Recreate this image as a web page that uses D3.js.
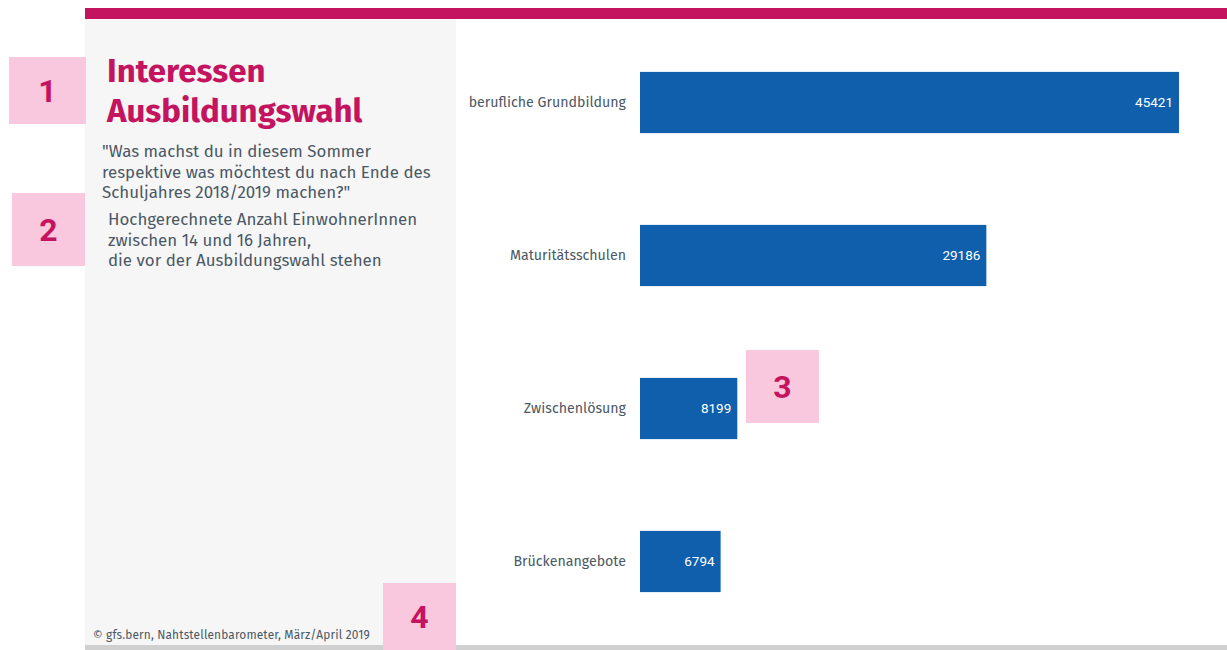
<!DOCTYPE html>
<html lang="de">
<head>
<meta charset="UTF-8">
<title>Interessen Ausbildungswahl</title>
<style>
  body { margin: 0; background: #fff; }
  svg text { font-family: "Fira Sans", "Noto Sans", "Open Sans", sans-serif; }
</style>
</head>
<body>
<svg id="svg" width="1227" height="650"></svg>
<script src="https://d3js.org/d3.v7.min.js"></script>
<script>
const categories = ["berufliche Grundbildung", "Maturitätsschulen", "Zwischenlösung", "Brückenangebote"]
const values = [45421, 29186, 8199, 6794]

const titleLines = ["Interessen", "Ausbildungswahl"]
const questionLines = ["\"Was machst du in diesem Sommer", "respektive was möchtest du nach Ende des", "Schuljahres 2018/2019 machen?\""]
const noteLines = ["Hochgerechnete Anzahl EinwohnerInnen", "zwischen 14 und 16 Jahren,", "die vor der Ausbildungswahl stehen"]
const footer = "© gfs.bern, Nahtstellenbarometer, März/April 2019"

const magenta = "#c4135f"
const textGrey = "#4b5865"
const barBlue = "#0f5fad"
const pink = "#f9c7de"

const svg = d3.select("#svg")

// frame
svg.append("rect").attr("x", 85).attr("y", 19).attr("width", 371).attr("height", 626).attr("fill", "#f6f6f6")
svg.append("rect").attr("x", 85).attr("y", 8).attr("width", 1142).attr("height", 11).attr("fill", magenta)
svg.append("rect").attr("x", 85).attr("y", 645).attr("width", 1142).attr("height", 5).attr("fill", "#d0d0d0")

// title + texts
svg.append("g").selectAll("text").data(titleLines).enter().append("text")
  .attr("x", 107).attr("y", (d, i) => 82 + i * 40)
  .attr("fill", magenta).attr("font-size", 33).attr("font-weight", "bold")
  .text(d => d)

svg.append("g").selectAll("text").data(questionLines).enter().append("text")
  .attr("x", 102).attr("y", (d, i) => 157 + i * 20.5)
  .attr("fill", textGrey).attr("font-size", 16.9)
  .text(d => d)

svg.append("g").selectAll("text").data(noteLines).enter().append("text")
  .attr("x", 108).attr("y", (d, i) => 225 + i * 20.5)
  .attr("fill", textGrey).attr("font-size", 16.9)
  .text(d => d)

svg.append("text").attr("x", 93).attr("y", 639)
  .attr("fill", textGrey).attr("font-size", 11.9).attr("letter-spacing", 0.15).text(footer)

// bars
const x = d3.scaleLinear().domain([0, 45421]).range([640, 1179])
const y = d3.scaleBand().domain(categories).range([26, 638]).paddingInner(0.6).paddingOuter(0.3)

const bars = svg.append("g").selectAll("g").data(categories).enter().append("g")

bars.append("rect")
  .attr("x", x(0))
  .attr("y", d => y(d))
  .attr("width", (d, i) => x(values[i]) - x(0))
  .attr("height", y.bandwidth())
  .attr("fill", barBlue)

bars.append("text")
  .attr("x", x(0) - 14)
  .attr("y", d => y(d) + y.bandwidth() / 2)
  .attr("dy", "0.35em")
  .attr("text-anchor", "end")
  .attr("fill", textGrey).attr("font-size", 14.2)
  .text(d => d)

bars.append("text")
  .attr("x", (d, i) => x(values[i]) - 6)
  .attr("y", d => y(d) + y.bandwidth() / 2)
  .attr("dy", "0.35em")
  .attr("text-anchor", "end")
  .attr("fill", "#fff").attr("font-size", 13.5)
  .style("font-family", "'Liberation Sans Narrow', 'Roboto', sans-serif")
  .text((d, i) => values[i])

// numbered markers
const markers = [
  { n: "1", x: 9, y: 57, w: 77, h: 67 },
  { n: "2", x: 12, y: 193, w: 73, h: 73 },
  { n: "3", x: 746, y: 350, w: 73, h: 73 },
  { n: "4", x: 383, y: 583, w: 73, h: 67 }
]
const mk = svg.append("g").selectAll("g").data(markers).enter().append("g")
mk.append("rect").attr("x", d => d.x).attr("y", d => d.y).attr("width", d => d.w).attr("height", d => d.h).attr("fill", pink)
mk.append("text")
  .attr("x", d => d.x + d.w / 2).attr("y", d => d.y + d.h / 2)
  .attr("dy", "0.36em").attr("text-anchor", "middle")
  .attr("fill", magenta).attr("font-size", 32).attr("font-weight", "bold")
  .style("font-family", "Roboto, sans-serif")
  .text(d => d.n)
</script>
</body>
</html>
